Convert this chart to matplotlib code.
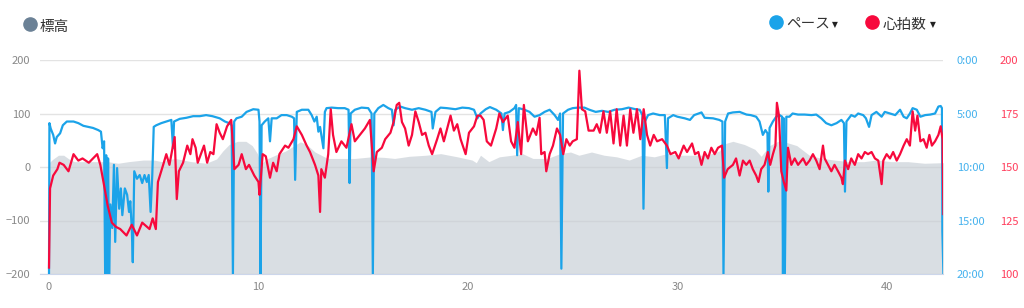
import matplotlib
matplotlib.use("Agg")
import matplotlib.pyplot as plt
from matplotlib.lines import Line2D

plt.rcParams["font.family"] = ["Noto Sans CJK JP", "DejaVu Sans"]

# elevation (m)
elev_km = [0.00, 0.20, 0.45, 0.70, 0.95, 1.20, 2.00, 2.80, 3.30, 3.80, 4.50, 5.00, 5.40, 6.00,
           6.80, 7.50, 8.00, 8.30, 8.60, 9.00, 9.40, 9.70, 9.95, 10.10, 10.40, 10.80, 11.30,
           11.75, 12.00, 12.30, 12.70, 13.30, 14.00, 14.60, 15.40, 16.00, 16.50, 17.20, 18.00,
           18.70, 19.50, 20.20, 20.40, 20.60, 21.00, 21.50, 22.10, 22.60, 23.10, 23.80, 24.40,
           24.90, 25.30, 25.90, 26.50, 27.10, 27.70, 28.30, 28.90, 29.50, 30.10, 30.80, 31.40,
           32.00, 32.30, 32.65, 33.20, 33.70, 34.00, 34.40, 34.80, 35.20, 35.70, 36.30, 36.90,
           37.50, 38.20, 38.90, 39.50, 40.20, 41.00, 41.80, 42.60, 42.70]
elev = [8, 15, 22, 22, 15, 10, 10, 10, 7, 10, 13, 13, 10, 16,
        10, 7, 15, 30, 42, 48, 48, 40, 25, 5, 15, 22, 30,
        41, 47, 42, 28, 16, 16, 16, 19, 18, 16, 20, 22,
        25, 19, 13, 8, 22, 10, 19, 22, 25, 16, 16, 25,
        28, 22, 28, 22, 19, 13, 22, 19, 25, 22, 22, 22,
        30, 44, 48, 42, 33, 20, 40, 48, 46, 40, 22, 16,
        13, 10, 10, 13, 10, 10, 7, 8, 8]

# pace (min/km)
pace_km = [0.00, 0.02, 0.08, 0.20, 0.29, 0.37, 0.53, 0.66, 0.85, 1.17, 1.40, 1.64, 1.88, 2.10,
           2.35, 2.48, 2.56, 2.63, 2.68, 2.73, 2.77, 2.82, 2.87, 2.93, 3.02, 3.10, 3.16, 3.25,
           3.35, 3.43, 3.50, 3.62, 3.73, 3.82, 3.88, 3.95, 4.00, 4.07, 4.20, 4.33, 4.45, 4.56,
           4.67, 4.76, 4.85, 4.93, 5.00, 5.12, 5.36, 5.60, 5.84, 5.92, 5.97, 6.24, 6.56, 6.88,
           7.20, 7.50, 7.80, 8.15, 8.40, 8.60, 8.72, 8.78, 8.84, 8.95, 9.20, 9.43, 9.75, 10.00,
           10.05, 10.10, 10.15, 10.30, 10.47, 10.55, 10.63, 10.87, 11.10, 11.35, 11.59, 11.70,
           11.75, 11.83, 12.07, 12.38, 12.54, 12.67, 12.78, 12.86, 12.94, 13.10, 13.17, 13.25,
           13.50, 13.80, 14.12, 14.30, 14.35, 14.40, 14.60, 14.92, 15.24, 15.40, 15.46, 15.53,
           15.72, 15.96, 16.20, 16.37, 16.45, 16.53, 16.77, 17.00, 17.33, 17.65, 17.97, 18.26,
           18.32, 18.45, 18.69, 19.00, 19.40, 19.73, 20.05, 20.29, 20.45, 20.60, 20.85, 21.05,
           21.35, 21.60, 21.67, 21.75, 21.98, 22.22, 22.30, 22.35, 22.43, 22.70, 22.94, 23.18,
           23.42, 23.66, 23.90, 24.14, 24.30, 24.40, 24.46, 24.54, 24.78, 25.00, 25.25, 25.56,
           25.80, 26.10, 26.40, 26.70, 27.00, 27.35, 27.67, 28.00, 28.20, 28.33, 28.38, 28.45,
           28.60, 28.84, 29.16, 29.40, 29.50, 29.55, 29.80, 30.00, 30.35, 30.60, 30.80, 31.15,
           31.30, 31.70, 32.00, 32.15, 32.20, 32.28, 32.42, 32.65, 32.97, 33.30, 33.50, 33.76,
           33.92, 34.08, 34.20, 34.30, 34.34, 34.40, 34.56, 34.72, 34.88, 35.00, 35.04, 35.08,
           35.13, 35.20, 35.35, 35.50, 35.76, 36.07, 36.40, 36.63, 36.87, 37.10, 37.35, 37.60,
           37.83, 37.95, 38.00, 38.07, 38.30, 38.47, 38.63, 38.87, 39.00, 39.15, 39.27, 39.50,
           39.75, 39.90, 40.15, 40.40, 40.63, 40.80, 40.95, 41.10, 41.23, 41.43, 41.60, 41.83,
           42.07, 42.30, 42.46, 42.57, 42.63, 42.65, 42.70]
pace = [20, 5.9, 6.4, 7.0, 7.8, 7.2, 6.85, 6.1, 5.75, 5.75, 5.9, 6.15, 6.25, 6.35,
        6.55, 6.7, 8.25, 7.6, 20, 8.9, 20, 9.2, 20, 13.5, 15.7, 9.8, 17.0, 10.1,
        13.9, 12.0, 14.5, 12.0, 12.6, 14.2, 13.2, 15.7, 18.9, 10.4, 11.1, 10.75, 11.5, 10.75,
        11.4, 10.75, 14.2, 10.75, 6.25, 6.1, 5.9, 5.75, 5.6, 8.25, 5.75, 5.5, 5.4, 5.25,
        5.25, 5.15, 5.25, 5.45, 5.75, 5.9, 6.1, 20, 5.75, 5.45, 5.3, 4.85, 4.6, 4.65,
        5.75, 20, 6.1, 5.75, 5.45, 7.6, 5.45, 5.45, 5.15, 5.15, 5.3, 5.45,
        11.2, 4.85, 4.65, 4.65, 5.15, 5.75, 5.3, 6.7, 6.25, 8.25, 4.85, 4.5,
        4.45, 4.5, 4.5, 4.65, 11.5, 5.0, 4.65, 4.45, 4.5, 5.0, 20, 5.0,
        4.5, 4.2, 4.5, 4.65, 6.1, 4.65, 4.35, 4.5, 4.65, 4.5, 4.65, 4.85,
        6.4, 4.85, 4.45, 4.5, 4.6, 4.45, 4.5, 4.65, 5.45, 5.0, 4.6, 4.4,
        4.65, 5.0, 6.55, 5.0, 4.85, 4.5, 4.2, 8.9, 4.5, 4.65, 4.85, 5.3,
        5.15, 4.85, 4.65, 5.15, 5.6, 5.0, 19.5, 5.0, 4.65, 4.5, 4.45, 4.45,
        4.65, 4.85, 4.75, 4.85, 4.65, 4.6, 4.45, 4.6, 4.65, 5.15, 13.9, 5.75,
        5.15, 5.0, 5.15, 5.15, 10.1, 5.45, 5.15, 5.3, 5.45, 5.6, 5.15, 4.9,
        5.4, 5.45, 5.6, 5.75, 20, 5.75, 5.0, 4.9, 4.85, 5.1, 5.15, 5.3,
        5.75, 7.0, 6.55, 6.85, 12.3, 6.35, 5.75, 5.3, 5.15, 5.3, 20, 5.45,
        20, 5.3, 5.3, 5.0, 5.1, 5.1, 5.15, 5.1, 5.45, 5.9, 6.1, 5.9,
        5.6, 5.9, 12.3, 5.75, 5.15, 5.3, 5.0, 5.15, 5.45, 6.25, 5.15, 4.85,
        5.3, 4.85, 5.0, 5.15, 4.65, 5.3, 5.45, 5.0, 4.5, 4.65, 5.3, 5.15,
        5.1, 5.0, 4.35, 4.3, 4.5, 16, 20]

# heart rate (bpm)
hr_km = [0.00, 0.05, 0.20, 0.40, 0.50, 0.70, 0.93, 1.17, 1.40, 1.60, 1.90, 2.30, 2.45, 2.60,
         2.80, 3.00, 3.20, 3.40, 3.70, 3.95, 4.20, 4.45, 4.80, 4.95, 5.10, 5.20, 5.45, 5.60,
         5.75, 5.90, 6.00, 6.10, 6.20, 6.40, 6.60, 6.75, 6.85, 7.00, 7.10, 7.40, 7.55, 7.70,
         7.85, 8.00, 8.15, 8.30, 8.50, 8.70, 8.85, 9.05, 9.20, 9.40, 9.55, 9.80, 10.00, 10.05,
         10.20, 10.35, 10.55, 10.70, 10.87, 11.00, 11.27, 11.43, 11.67, 11.83, 12.07, 12.30,
         12.46, 12.70, 12.86, 12.94, 13.00, 13.17, 13.33, 13.45, 13.56, 13.72, 13.96, 14.20,
         14.44, 14.60, 14.84, 15.08, 15.32, 15.50, 15.65, 15.89, 16.05, 16.30, 16.45, 16.60,
         16.72, 16.85, 17.00, 17.17, 17.33, 17.49, 17.65, 17.81, 17.97, 18.13, 18.29, 18.53,
         18.69, 18.85, 19.01, 19.17, 19.33, 19.49, 19.65, 19.89, 20.05, 20.29, 20.45, 20.60,
         20.75, 20.90, 21.10, 21.35, 21.50, 21.67, 21.90, 22.06, 22.22, 22.38, 22.54, 22.67,
         22.86, 23.10, 23.26, 23.42, 23.50, 23.66, 23.74, 23.90, 24.06, 24.25, 24.40, 24.55,
         24.70, 24.86, 25.00, 25.20, 25.32, 25.44, 25.60, 25.76, 26.00, 26.15, 26.30, 26.47,
         26.63, 26.79, 26.95, 27.10, 27.27, 27.43, 27.59, 27.75, 27.90, 28.07, 28.23, 28.39,
         28.55, 28.70, 28.87, 29.03, 29.27, 29.50, 29.67, 29.90, 30.06, 30.30, 30.46, 30.70,
         30.84, 31.00, 31.15, 31.30, 31.46, 31.62, 31.78, 31.94, 32.13, 32.23, 32.40, 32.65,
         32.80, 32.97, 33.13, 33.29, 33.45, 33.60, 33.76, 33.87, 34.00, 34.16, 34.32, 34.43,
         34.56, 34.68, 34.75, 34.85, 34.96, 35.08, 35.20, 35.28, 35.44, 35.60, 35.76, 36.00,
         36.15, 36.31, 36.47, 36.63, 36.79, 36.95, 37.03, 37.19, 37.35, 37.50, 37.67, 37.83,
         37.90, 38.00, 38.15, 38.30, 38.47, 38.63, 38.79, 38.95, 39.10, 39.27, 39.43, 39.59,
         39.75, 39.83, 39.99, 40.15, 40.30, 40.47, 40.63, 40.80, 40.95, 41.10, 41.23, 41.35,
         41.46, 41.60, 41.75, 41.90, 42.03, 42.15, 42.30, 42.46, 42.57, 42.66, 42.70]
hr = [103, 140, 146, 149, 152, 151, 148, 156, 153, 154, 152, 156, 151, 143,
      132, 124, 122, 121, 118, 123, 118, 124, 121, 126, 121, 143, 151, 156,
      151, 159, 164, 135, 148, 152, 160, 156, 163, 159, 152, 160, 152, 157,
      156, 170, 166, 163, 169, 172, 149, 151, 156, 149, 151, 146, 143, 137,
      156, 155, 145, 152, 148, 156, 160, 159, 163, 169, 165, 160,
      157, 151, 146, 129, 149, 145, 156, 177, 165, 157, 162, 159,
      170, 162, 165, 168, 172, 148, 157, 159, 163, 166, 171, 179,
      180, 171, 168, 160, 165, 176, 171, 165, 166, 160, 156, 163,
      168, 162, 168, 174, 167, 170, 163, 156, 166, 169, 174, 174,
      172, 162, 160, 168, 175, 171, 174, 162, 159, 171, 156, 179,
      162, 168, 165, 173, 156, 157, 148, 156, 160, 168, 165, 156,
      163, 160, 162, 163, 195, 177, 176, 167, 167, 170, 166, 176,
      166, 176, 161, 177, 160, 174, 160, 177, 166, 177, 163, 177,
      165, 160, 165, 162, 163, 160, 156, 157, 154, 160, 157, 161,
      156, 157, 151, 157, 154, 159, 156, 159, 160, 145, 149, 151,
      154, 146, 153, 151, 153, 149, 146, 143, 149, 151, 157, 151,
      156, 160, 180, 174, 148, 143, 139, 159, 151, 154, 151, 154,
      151, 153, 156, 153, 149, 160, 154, 151, 148, 151, 148, 145,
      142, 153, 149, 154, 151, 156, 154, 157, 156, 157, 154, 153,
      142, 153, 156, 154, 157, 153, 156, 160, 163, 160, 176, 167,
      174, 162, 163, 159, 165, 160, 162, 165, 169, 163, 128]

elev_ticks = [-200, -100, 0, 100, 200]
pace_ticks = [0, 5, 10, 15, 20]
hr_ticks = [100, 125, 150, 175, 200]
km_ticks = [0, 10, 20, 30, 40]

BLUE = "#1ba3e9"
RED = "#f7093c"
GRAY = "#6b8196"

fig = plt.figure(figsize=(10.24, 3.08), dpi=100)
ax = fig.add_axes([40 / 1024, 34 / 308, 903 / 1024, 214 / 308])

ax.fill_between(elev_km, elev, -200, color="#c6cdd4", alpha=0.65, lw=0, zorder=1)
ax.set_xlim(-0.43, 42.68)
ax.set_ylim(-200, 200)
ax.set_yticks(elev_ticks)
ax.set_xticks(km_ticks)
ax.grid(axis="y", color="#e3e3e3", lw=1)
ax.set_axisbelow(True)
for s in ["top", "left", "right"]:
    ax.spines[s].set_visible(False)
ax.spines["bottom"].set_color("#ccd6eb")
ax.tick_params(axis="y", length=0, pad=7, labelsize=8, labelcolor="#888888")
ax.tick_params(axis="x", length=0, pad=6, labelsize=8, labelcolor="#888888")

ax_p = ax.twinx()
ax_p.plot(pace_km, pace, color=BLUE, lw=1.6, solid_joinstyle="round")
ax_p.set_ylim(20, 0)
ax_p.set_yticks(pace_ticks)
ax_p.set_yticklabels([f"{v}:00" for v in pace_ticks])
ax_p.tick_params(axis="y", length=0, pad=10, labelsize=8, labelcolor="#45b2ee")

ax_h = ax.twinx()
ax_h.plot(hr_km, hr, color=RED, lw=1.6, solid_joinstyle="round")
ax_h.set_ylim(100, 200)
ax_h.set_yticks(hr_ticks)
ax_h.tick_params(axis="y", length=0, pad=41, labelsize=8, labelcolor="#ff3d5c")

for a in (ax_p, ax_h):
    for s in a.spines.values():
        s.set_visible(False)

# legend
def legend_item(x_dot, x_text, y, color, label, arrow_x=None):
    fig.add_artist(Line2D([x_dot / 1024], [1 - y / 308], marker="o", ms=9.5,
                          color=color, transform=fig.transFigure))
    fig.text(x_text / 1024, 1 - (y + 3) / 308, label, fontsize=10.5, color="#333333",
             va="center", ha="left")
    if arrow_x is not None:
        fig.text(arrow_x / 1024, 1 - (y + 3) / 308, "▼", fontsize=5.5, color="#222222",
                 va="center", ha="left", family="DejaVu Sans")

legend_item(30, 40, 24, GRAY, "標高")
legend_item(776, 786, 22, BLUE, "ペース", 832)
legend_item(872, 883, 22, RED, "心拍数", 930)

fig.savefig("out.png", dpi=100)
